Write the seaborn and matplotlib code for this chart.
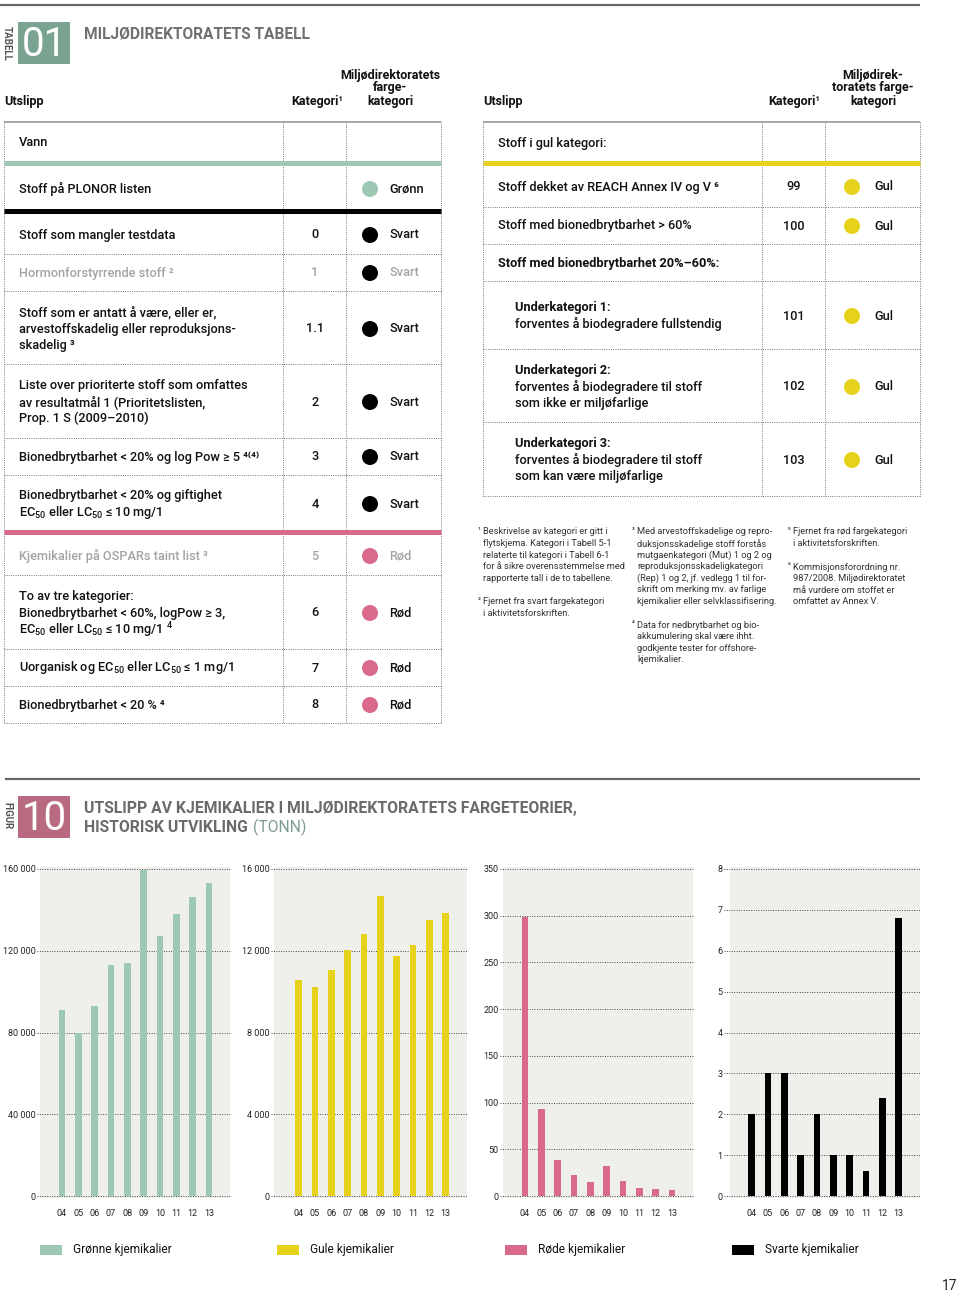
import matplotlib.pyplot as plt
import pandas as pd
import seaborn as sns
from matplotlib.patches import Rectangle, Circle

sns.set_theme(style="white")
plt.rcParams["font.family"] = ["Roboto", "DejaVu Sans"]
plt.rcParams["mathtext.fontset"] = "custom"
plt.rcParams["mathtext.rm"] = "Roboto"
plt.rcParams["mathtext.default"] = "regular"

W, H = 960, 1292

# ---- figur 10: utslipp av kjemikalier (tonn) ----
years = ["04", "05", "06", "07", "08", "09", "10", "11", "12", "13"]
green_tonn = [91000, 80000, 93000, 113000, 114000, 159700, 127000, 138000, 146500, 153000]
yellow_tonn = [10580, 10220, 11070, 12020, 12800, 14690, 11720, 12290, 13520, 13830]
red_tonn = [299, 93, 38.6, 22.9, 14.6, 32, 16, 8.2, 7.5, 6.4]
black_tonn = [2.0, 3.0, 3.0, 1.0, 2.0, 1.0, 1.0, 0.6, 2.4, 6.8]

green_ticks = [0, 40000, 80000, 120000, 160000]
green_ticklabels = ["0", "40 000", "80 000", "120 000", "160 000"]
yellow_ticks = [0, 4000, 8000, 12000, 16000]
yellow_ticklabels = ["0", "4 000", "8 000", "12 000", "16 000"]
red_ticks = [0, 50, 100, 150, 200, 250, 300, 350]
red_ticklabels = [str(t) for t in red_ticks]
black_ticks = [0, 1, 2, 3, 4, 5, 6, 7, 8]
black_ticklabels = [str(t) for t in black_ticks]

legend_labels = ["Grønne kjemikalier", "Gule kjemikalier", "Røde kjemikalier", "Svarte kjemikalier"]

# ---- tabell 01 ----
left_text = [
    ["Vann"],
    ["Stoff på PLONOR listen"],
    ["Stoff som mangler testdata"],
    ["Hormonforstyrrende stoff ²"],
    ["Stoff som er antatt å være, eller er,", "arvestoffskadelig eller reproduksjons-", "skadelig ³"],
    ["Liste over prioriterte stoff som omfattes", "av resultatmål 1 (Prioritetslisten,", "Prop. 1 S (2009–2010)"],
    ["Bionedbrytbarhet < 20% og log Pow ≥ 5 ⁴⁽⁴⁾"],
    ["Bionedbrytbarhet < 20% og giftighet", "EC$_{50}$ eller LC$_{50}$ ≤ 10 mg/1"],
    ["Kjemikalier på OSPARs taint list ³"],
    ["To av tre kategorier:", "Bionedbrytbarhet < 60%, logPow ≥ 3,", "EC$_{50}$ eller LC$_{50}$ ≤ 10 mg/1 $^{4}$"],
    ["Uorganisk og EC$_{50}$ eller LC$_{50}$ ≤ 1 mg/1"],
    ["Bionedbrytbarhet < 20 % ⁴"],
]
left_cat = ["", "", "0", "1", "1.1", "2", "3", "4", "5", "6", "7", "8"]
left_colour = ["", "Grønn", "Svart", "Svart", "Svart", "Svart", "Svart", "Svart", "Rød", "Rød", "Rød", "Rød"]
left_muted = [False, False, False, True, False, False, False, False, True, False, False, False]

right_text = [
    ["Stoff i gul kategori:"],
    ["Stoff dekket av REACH Annex IV og V ⁶"],
    ["Stoff med bionedbrytbarhet > 60%"],
    ["Stoff med bionedbrytbarhet 20%–60%:"],
    ["Underkategori 1:", "forventes å biodegradere fullstendig"],
    ["Underkategori 2:", "forventes å biodegradere til stoff", "som ikke er miljøfarlige"],
    ["Underkategori 3:", "forventes å biodegradere til stoff", "som kan være miljøfarlige"],
]
right_cat = ["", "99", "100", "", "101", "102", "103"]
right_colour = ["", "Gul", "Gul", "", "Gul", "Gul", "Gul"]

footnote_marks = ["¹", "²", "³", "⁴", "⁵", "⁶"]
footnote_text = [
    ["Beskrivelse av kategori er gitt i", "flytskjema. Kategori i Tabell 5-1",
     "relaterte til kategori i Tabell 6-1", "for å sikre overensstemmelse med",
     "rapporterte tall i de to tabellene."],
    ["Fjernet fra svart fargekategori", "i aktivitetsforskriften."],
    ["Med arvestoffskadelige og repro-", "duksjonsskadelige stoff forstås",
     "mutgaenkategori (Mut) 1 og 2 og", "reproduksjonsskadeligkategori",
     "(Rep) 1 og 2, jf. vedlegg 1 til for-", "skrift om merking mv. av farlige",
     "kjemikalier eller selvklassifisering."],
    ["Data for nedbrytbarhet og bio-", "akkumulering skal være ihht.",
     "godkjente tester for offshore-", "kjemikalier."],
    ["Fjernet fra rød fargekategori", "i aktivitetsforskriften."],
    ["Kommisjonsforordning nr.", "987/2008. Miljødirektoratet",
     "må vurdere om stoffet er", "omfattet av Annex V."],
]

# colours
GREEN = "#9CC8B4"
YELLOW = "#E6D21A"
PINK = "#DA6A8C"
BLACK = "#000000"
PANEL = "#EFEFEC"
MUTED = "#A3A3A3"
colour_of = {"Grønn": GREEN, "Svart": BLACK, "Rød": PINK, "Gul": YELLOW}

# layout (pixels)
left_row_y = [143, 189, 235, 273, 329, 402, 457, 504, 556, 613, 668, 705]
right_row_y = [143, 187, 226, 263, 316, 387, 460]
LINE_STEP = 16.8

fig = plt.figure(figsize=(W / 100, H / 100), dpi=100)
bg = fig.add_axes([0, 0, 1, 1])
bg.set_xlim(0, W)
bg.set_ylim(H, 0)
bg.axis("off")

DOTTED = dict(ls=(0, (1, 1.3)), color="#777777", lw=0.7)


def hline(x0, x1, y, **kw):
    bg.plot([x0, x1], [y, y], solid_capstyle="butt", **kw)


def vline(x, y0, y1, **kw):
    bg.plot([x, x], [y0, y1], **kw)


# page rules
hline(0, 920, 5, color="#666666", lw=1.6)
hline(5, 920, 779, color="#666666", lw=1.6)

# table heading
bg.text(7, 43, "TABELL", rotation=-90, ha="center", va="center", fontsize=7,
        fontweight="bold", color="#555555")
bg.add_patch(Rectangle((18, 22), 52, 42, color="#7BA392", lw=0))
bg.text(44, 44, "01", ha="center", va="center", fontsize=29, color="white")
bg.text(84, 34, "MILJØDIREKTORATETS TABELL", ha="left", va="center", fontsize=11.2,
        fontweight="bold", color="#707070")

# column headers
hdr = dict(fontsize=9, fontweight="bold", color="#111111", va="center")
bg.text(4, 101, "Utslipp", ha="left", **hdr)
bg.text(343, 101, "Kategori¹", ha="right", **hdr)
for i, s in enumerate(["Miljødirektoratets", "farge-", "kategori"]):
    bg.text(390, 75 + i * 13, s, ha="center", **hdr)
bg.text(483, 101, "Utslipp", ha="left", **hdr)
bg.text(820, 101, "Kategori¹", ha="right", **hdr)
for i, s in enumerate(["Miljødirek-", "toratets farge-", "kategori"]):
    bg.text(873, 75 + i * 13, s, ha="center", **hdr)

# left table frame
hline(4, 441, 122, color="#9A9A9A", lw=1.2)
for x in [4, 283, 346, 441]:
    vline(x, 122, 723, **DOTTED)
for y in [254, 291, 364, 438, 475, 575, 649, 686, 723]:
    hline(4, 441, y, **DOTTED)
for y, c in [(163, GREEN), (211, BLACK), (532, PINK)]:
    hline(4, 441, y, color=c, lw=3.6)

body = dict(fontsize=9.2, va="center")
for lines, cat, col, muted, yc in zip(left_text, left_cat, left_colour, left_muted, left_row_y):
    tc = MUTED if muted else "#111111"
    n = len(lines)
    for i, s in enumerate(lines):
        bg.text(19, yc + (i - (n - 1) / 2) * LINE_STEP, s, ha="left", color=tc,
                fontweight=500, **body)
    if cat:
        bg.text(315, yc, cat, ha="center", color=tc, fontweight=500, **body)
    if col:
        bg.add_patch(Circle((370, yc), 8, color=colour_of[col], lw=0, zorder=3))
        bg.text(389, yc, col, ha="left", color=tc, fontweight=500, **body)

# right table frame
hline(483, 920, 122, color="#9A9A9A", lw=1.2)
for x in [483, 762, 825, 920]:
    vline(x, 122, 496, **DOTTED)
for y in [207, 244, 281, 349, 422, 496]:
    hline(483, 920, y, **DOTTED)
hline(483, 920, 163, color=YELLOW, lw=3.6)

for k, (lines, cat, col, yc) in enumerate(zip(right_text, right_cat, right_colour, right_row_y)):
    n = len(lines)
    x0 = 515 if k >= 4 else 498
    for i, s in enumerate(lines):
        bold = (k == 3) or (k >= 4 and i == 0)
        bg.text(x0, yc + (i - (n - 1) / 2) * LINE_STEP, s, ha="left", color="#111111",
                fontweight="bold" if bold else 500, **body)
    if cat:
        bg.text(794, yc, cat, ha="center", color="#111111", fontweight=500, **body)
    if col:
        bg.add_patch(Circle((852, yc), 8, color=colour_of[col], lw=0, zorder=3))
        bg.text(874, yc, col, ha="left", color="#111111", fontweight=500, **body)

# footnotes
fn_pos = [(478, 532), (478, 602), (632, 532), (632, 625), (788, 532), (788, 567)]
for mark, lines, (fx, fy) in zip(footnote_marks, footnote_text, fn_pos):
    bg.text(fx, fy - 1, mark, ha="left", va="center", fontsize=5.5, color="#333333")
    for i, s in enumerate(lines):
        bg.text(fx + 5, fy + i * 11.6, s, ha="left", va="center", fontsize=6.7, color="#333333")

# figure heading
bg.text(7, 816, "FIGUR", rotation=-90, ha="center", va="center", fontsize=7,
        fontweight="bold", color="#555555")
bg.add_patch(Rectangle((18, 796), 52, 42, color="#B86B80", lw=0))
bg.text(44, 818, "10", ha="center", va="center", fontsize=29, color="white")
bg.text(84, 808, "UTSLIPP AV KJEMIKALIER I MILJØDIREKTORATETS FARGETEORIER,", ha="left",
        va="center", fontsize=11.3, fontweight="bold", color="#6B6B6B")
t2 = bg.text(84, 827, "HISTORISK UTVIKLING", ha="left", va="center", fontsize=11.3,
             fontweight="bold", color="#6B6B6B")
bg.annotate("(TONN)", xy=(1, 0.5), xycoords=t2, xytext=(4, 0), textcoords="offset points",
            ha="left", va="center", fontsize=11.3, color="#7F9B8F")

# bar charts
Y_TOP, Y_ZERO, STEP = 869, 1196, 16.33
charts = [
    (green_tonn, GREEN, green_ticks, green_ticklabels, 37, 40, 230, 62.0),
    (yellow_tonn, YELLOW, yellow_ticks, yellow_ticklabels, 271, 274, 467, 298.7),
    (red_tonn, PINK, red_ticks, red_ticklabels, 500, 503, 693, 525.0),
    (black_tonn, BLACK, black_ticks, black_ticklabels, 724, 730, 920, 751.7),
]
for vals, col, ticks, tlabels, ax_l, pan_l, pan_r, bar0 in charts:
    ax = fig.add_axes([ax_l / W, 1 - Y_ZERO / H, (pan_r - ax_l) / W, (Y_ZERO - Y_TOP) / H])
    ax.set_facecolor("none")
    df = pd.DataFrame({"år": years, "tonn": vals})
    sns.barplot(data=df, x="år", y="tonn", color=col, saturation=1, width=0.41,
                errorbar=None, linewidth=0, ax=ax)
    xl = (ax_l - bar0) / STEP
    xp = (pan_l - bar0) / STEP
    xr = (pan_r - bar0) / STEP
    ax.add_patch(Rectangle((xp, -0.006), xr - xp, 1.012, transform=ax.get_xaxis_transform(),
                           facecolor=PANEL, lw=0, zorder=0, clip_on=False))
    ax.set_xlim(xl, xr)
    ax.set_ylim(0, ticks[-1])
    ax.set_yticks(ticks)
    ax.set_yticklabels(tlabels)
    ax.set_xlabel("")
    ax.set_ylabel("")
    ax.set_axisbelow(True)
    ax.yaxis.grid(True, ls=(0, (1, 1.5)), color="#444444", lw=0.7, clip_on=False)
    ax.xaxis.grid(False)
    for sp in ax.spines.values():
        sp.set_visible(False)
    ax.tick_params(axis="y", length=0, pad=1, labelsize=6.5, labelcolor="#222222")
    ax.tick_params(axis="x", length=0, pad=9, labelsize=6.5, labelcolor="#222222")

# legend
for col, lab, lx in zip([GREEN, YELLOW, PINK, BLACK], legend_labels, [40, 277, 505, 732]):
    bg.add_patch(Rectangle((lx, 1245), 22, 10, color=col, lw=0))
    bg.text(lx + 33, 1250, lab, ha="left", va="center", fontsize=8.6, color="#111111")

bg.text(957, 1286, "17", ha="right", va="center", fontsize=10, color="#222222")

fig.savefig("out.png", dpi=100)
